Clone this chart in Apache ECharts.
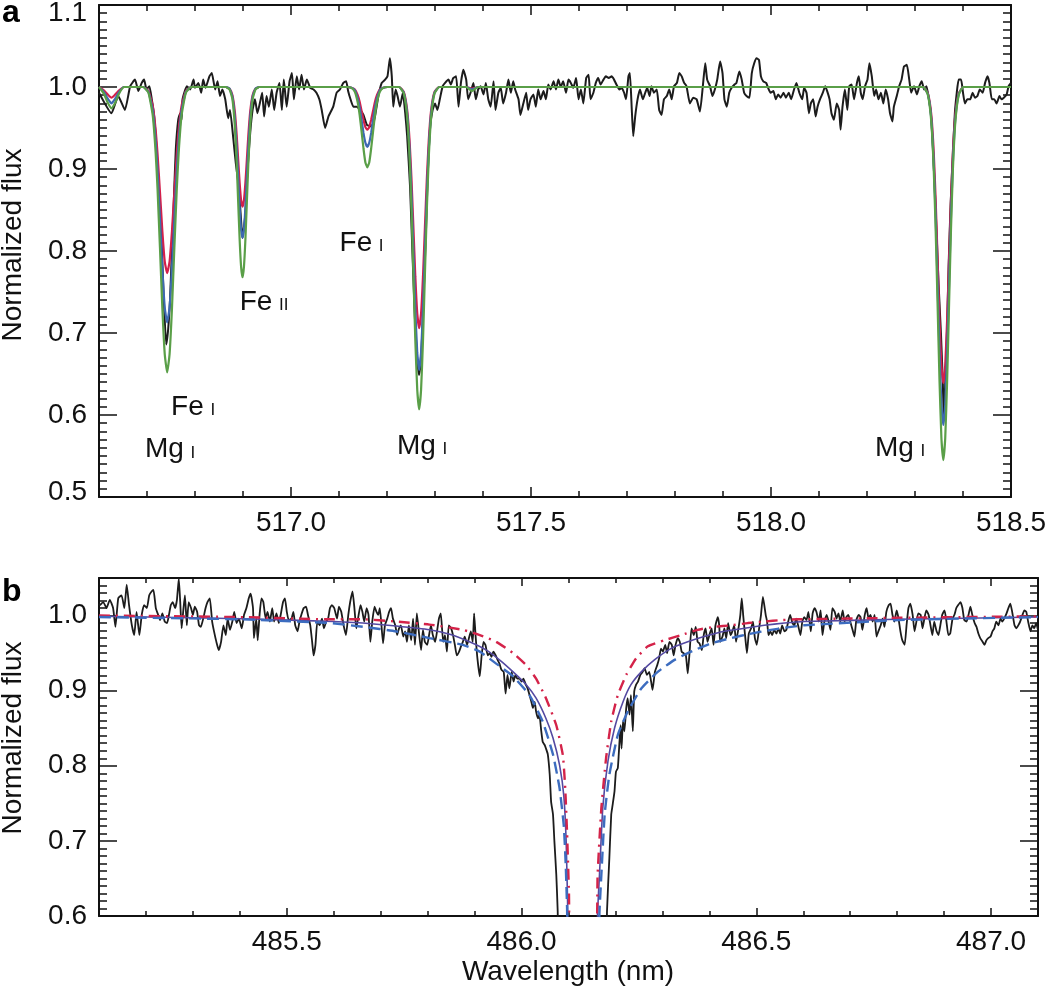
<!DOCTYPE html>
<html>
<head>
<meta charset="utf-8">
<title>Normalized flux spectra</title>
<script src="https://cdn.jsdelivr.net/npm/echarts@6.0.0/dist/echarts.min.js"></script>
<style>
  html, body { margin: 0; padding: 0; background: #fff; }
  #chart { width: 1050px; height: 997px; }
</style>
</head>
<body>
<div id="chart"></div>
<script>
// ---------- panel a : observed spectrum (nm, normalized flux) ----------
const specA_wave = [
  516.600, 516.626, 516.640, 516.654, 516.665, 516.675, 516.682, 516.689, 516.694, 516.699,
  516.705, 516.710, 516.715, 516.720, 516.726, 516.731, 516.735, 516.740, 516.744, 516.748,
  516.752, 516.756, 516.760, 516.765, 516.769, 516.772, 516.774, 516.783, 516.790, 516.797,
  516.800, 516.807, 516.813, 516.817, 516.822, 516.830, 516.835, 516.842, 516.847, 516.852,
  516.857, 516.863, 516.869, 516.873, 516.880, 516.885, 516.891, 516.895, 516.899, 516.905,
  516.909, 516.915, 516.920, 516.925, 516.930, 516.935, 516.940, 516.944, 516.949, 516.954,
  516.960, 516.965, 516.970, 516.976, 516.981, 516.985, 516.991, 516.997, 517.002, 517.006,
  517.012, 517.017, 517.022, 517.027, 517.033, 517.040, 517.047, 517.053, 517.059, 517.064,
  517.071, 517.078, 517.088, 517.095, 517.102, 517.109, 517.115, 517.119, 517.124, 517.130,
  517.137, 517.144, 517.151, 517.158, 517.165, 517.170, 517.175, 517.182, 517.189, 517.196,
  517.201, 517.206, 517.210, 517.213, 517.218, 517.222, 517.227, 517.233, 517.238, 517.242,
  517.248, 517.253, 517.258, 517.263, 517.267, 517.272, 517.276, 517.281, 517.285, 517.290,
  517.295, 517.300, 517.305, 517.310, 517.316, 517.321, 517.328, 517.333, 517.338, 517.344,
  517.349, 517.354, 517.359, 517.365, 517.369, 517.374, 517.380, 517.385, 517.390, 517.395,
  517.401, 517.406, 517.411, 517.416, 517.422, 517.426, 517.432, 517.437, 517.442, 517.448,
  517.453, 517.458, 517.463, 517.467, 517.474, 517.478, 517.484, 517.490, 517.494, 517.499,
  517.505, 517.510, 517.515, 517.520, 517.526, 517.531, 517.536, 517.541, 517.547, 517.552,
  517.557, 517.562, 517.567, 517.573, 517.578, 517.583, 517.588, 517.594, 517.599, 517.604,
  517.609, 517.615, 517.620, 517.624, 517.630, 517.635, 517.640, 517.645, 517.651, 517.656,
  517.662, 517.668, 517.673, 517.678, 517.684, 517.689, 517.694, 517.698, 517.703, 517.706,
  517.710, 517.713, 517.717, 517.722, 517.727, 517.733, 517.738, 517.742, 517.747, 517.751,
  517.756, 517.762, 517.767, 517.772, 517.777, 517.783, 517.788, 517.793, 517.798, 517.804,
  517.809, 517.814, 517.819, 517.824, 517.831, 517.838, 517.845, 517.852, 517.858, 517.863,
  517.867, 517.873, 517.878, 517.883, 517.888, 517.894, 517.899, 517.903, 517.908, 517.913,
  517.918, 517.924, 517.928, 517.934, 517.939, 517.944, 517.949, 517.955, 517.960, 517.965,
  517.970, 517.975, 517.979, 517.984, 517.990, 517.994, 517.999, 518.005, 518.010, 518.015,
  518.020, 518.026, 518.031, 518.037, 518.042, 518.048, 518.053, 518.059, 518.065, 518.069,
  518.074, 518.079, 518.083, 518.088, 518.093, 518.097, 518.102, 518.108, 518.113, 518.117,
  518.122, 518.126, 518.131, 518.137, 518.142, 518.145, 518.149, 518.154, 518.159, 518.163,
  518.168, 518.173, 518.179, 518.183, 518.187, 518.191, 518.196, 518.201, 518.205, 518.210,
  518.215, 518.219, 518.224, 518.229, 518.234, 518.239, 518.244, 518.248, 518.253, 518.256,
  518.262, 518.267, 518.272, 518.277, 518.283, 518.288, 518.292, 518.298, 518.304, 518.309,
  518.314, 518.319, 518.324, 518.329, 518.333, 518.337, 518.341, 518.345, 518.349, 518.354,
  518.358, 518.360, 518.363, 518.367, 518.370, 518.374, 518.379, 518.383, 518.387, 518.391,
  518.396, 518.400, 518.404, 518.409, 518.415, 518.420, 518.425, 518.430, 518.435, 518.441,
  518.446, 518.451, 518.455, 518.460, 518.465, 518.470, 518.476, 518.480, 518.485, 518.491,
  518.495, 518.500
];
const specA_flux = [
  0.993, 0.968, 0.989, 0.972, 1.001, 1.009, 0.995, 1.005, 1.009, 0.997,
  1.001, 0.985, 0.964, 0.924, 0.863, 0.802, 0.741, 0.686, 0.704, 0.741,
  0.802, 0.863, 0.924, 0.960, 0.968, 0.960, 0.985, 1.001, 0.997, 1.009,
  0.999, 1.005, 0.993, 1.009, 0.999, 1.013, 1.017, 0.997, 1.007, 0.989,
  0.997, 0.985, 0.962, 0.972, 0.936, 0.907, 0.879, 0.846, 0.816, 0.846,
  0.895, 0.944, 0.972, 0.985, 0.968, 0.980, 0.993, 0.964, 0.989, 0.976,
  0.997, 0.972, 0.993, 1.005, 0.972, 1.009, 0.976, 1.007, 1.017, 0.985,
  1.013, 0.997, 1.015, 0.997, 1.009, 0.999, 0.997, 0.993, 0.985, 0.972,
  0.950, 0.964, 0.976, 0.993, 0.997, 1.005, 1.007, 0.995, 0.985, 0.976,
  0.976, 0.972, 0.966, 0.954, 0.952, 0.954, 0.964, 0.989, 1.005, 1.009,
  1.013, 1.035, 1.013, 0.976, 0.997, 0.989, 0.976, 0.993, 0.968, 0.940,
  0.879, 0.798, 0.720, 0.667, 0.649, 0.680, 0.741, 0.822, 0.895, 0.952,
  0.972, 0.980, 0.972, 0.985, 1.001, 1.005, 1.009, 1.003, 1.011, 1.013,
  0.976, 1.005, 1.021, 1.009, 0.985, 0.993, 1.005, 0.985, 0.997, 1.001,
  0.991, 1.005, 0.985, 0.976, 1.007, 0.972, 0.993, 0.999, 0.980, 0.993,
  1.009, 0.993, 1.007, 0.997, 0.985, 0.966, 0.980, 0.993, 0.972, 0.985,
  0.991, 0.976, 0.997, 0.985, 0.995, 0.985, 1.003, 0.997, 1.007, 0.997,
  1.009, 1.000, 1.007, 0.993, 1.009, 1.005, 0.999, 1.011, 0.985, 0.997,
  0.980, 1.011, 1.015, 0.985, 0.993, 1.005, 1.011, 1.003, 1.009, 1.013,
  1.011, 1.013, 1.009, 1.003, 0.997, 0.999, 0.993, 0.985, 1.013, 1.017,
  0.972, 0.940, 0.964, 0.985, 0.997, 0.985, 0.993, 0.999, 0.989, 1.001,
  0.993, 0.997, 0.972, 0.966, 0.985, 0.989, 0.997, 0.985, 1.001, 1.005,
  1.017, 1.013, 1.005, 1.001, 0.980, 0.987, 0.985, 0.970, 1.001, 1.029,
  1.009, 1.001, 0.989, 0.997, 1.009, 1.031, 1.017, 0.985, 0.976, 0.993,
  0.999, 1.003, 1.005, 1.019, 1.009, 0.993, 0.989, 0.987, 1.017, 1.029,
  1.035, 1.033, 1.013, 1.007, 1.005, 0.999, 0.993, 0.995, 0.985, 0.991,
  0.987, 0.993, 0.987, 0.993, 0.985, 0.997, 1.005, 0.993, 0.985, 0.999,
  0.993, 0.968, 0.980, 0.985, 0.964, 0.976, 0.985, 0.993, 1.001, 0.995,
  0.985, 0.968, 0.960, 0.980, 0.972, 0.948, 0.976, 0.997, 0.972, 1.001,
  1.003, 0.985, 1.005, 1.013, 0.993, 0.985, 1.001, 1.009, 1.029, 1.013,
  0.989, 0.997, 0.985, 0.993, 0.980, 0.997, 0.985, 0.968, 0.958, 0.976,
  0.989, 1.001, 1.009, 1.025, 1.027, 1.009, 0.993, 1.001, 0.991, 1.001,
  1.007, 0.997, 1.001, 0.985, 0.968, 0.928, 0.879, 0.822, 0.761, 0.700,
  0.639, 0.594, 0.639, 0.708, 0.781, 0.854, 0.920, 0.968, 0.993, 1.009,
  1.009, 0.993, 0.980, 0.985, 0.985, 0.993, 0.987, 0.989, 0.997, 0.993,
  1.005, 1.013, 1.005, 0.985, 0.985, 0.980, 0.989, 0.985, 0.987, 0.991,
  1.001, 1.005
];

// ---------- panel a : three synthetic line profiles ----------
const modelA_wave = [
  516.600, 516.610, 516.618, 516.626, 516.634, 516.642, 516.652,
  516.692, 516.703, 516.712, 516.718, 516.722, 516.727, 516.732, 516.737, 516.742,
  516.747, 516.752, 516.757, 516.762, 516.766, 516.772, 516.781, 516.792,
  516.864, 516.872, 516.878, 516.883, 516.887, 516.890, 516.893, 516.896, 516.899,
  516.902, 516.905, 516.908, 516.911, 516.915, 516.920, 516.926, 516.934,
  517.117, 517.126, 517.133, 517.139, 517.143, 517.147, 517.151, 517.155, 517.159,
  517.163, 517.167, 517.171, 517.175, 517.179, 517.185, 517.192, 517.201,
  517.225, 517.235, 517.242, 517.247, 517.251, 517.255, 517.259, 517.263, 517.267,
  517.271, 517.275, 517.279, 517.283, 517.287, 517.292, 517.299, 517.309,
  517.365, 517.377, 517.390,
  518.317, 518.327, 518.334, 518.339, 518.343, 518.347, 518.351, 518.355, 518.359,
  518.363, 518.367, 518.371, 518.375, 518.379, 518.384, 518.391, 518.401, 518.500
];
const modelA_red = [
  1.000, 0.996, 0.991, 0.987, 0.991, 0.996, 1.000,
  1.000, 0.995, 0.977, 0.948, 0.918, 0.872, 0.824, 0.787, 0.773,
  0.787, 0.824, 0.872, 0.918, 0.948, 0.977, 0.995, 1.000,
  1.000, 0.998, 0.990, 0.970, 0.940, 0.911, 0.883, 0.862, 0.854,
  0.862, 0.883, 0.911, 0.940, 0.970, 0.990, 0.998, 1.000,
  1.000, 0.999, 0.997, 0.990, 0.982, 0.971, 0.960, 0.951, 0.948,
  0.951, 0.960, 0.971, 0.982, 0.990, 0.997, 0.999, 1.000,
  1.000, 0.994, 0.972, 0.935, 0.888, 0.829, 0.769, 0.724, 0.706,
  0.724, 0.769, 0.829, 0.888, 0.935, 0.972, 0.994, 1.000,
  1.000, 0.998, 1.000,
  1.000, 0.992, 0.966, 0.921, 0.863, 0.791, 0.717, 0.661, 0.639,
  0.661, 0.717, 0.791, 0.863, 0.921, 0.966, 0.992, 1.000, 1.000
];
const modelA_blue = [
  1.000, 0.994, 0.986, 0.980, 0.986, 0.994, 1.000,
  1.000, 0.994, 0.971, 0.934, 0.897, 0.838, 0.778, 0.731, 0.713,
  0.731, 0.778, 0.838, 0.897, 0.934, 0.971, 0.994, 1.000,
  1.000, 0.998, 0.988, 0.962, 0.924, 0.888, 0.853, 0.826, 0.816,
  0.826, 0.853, 0.888, 0.924, 0.962, 0.988, 0.998, 1.000,
  1.000, 0.999, 0.996, 0.986, 0.975, 0.960, 0.944, 0.932, 0.927,
  0.932, 0.944, 0.960, 0.975, 0.986, 0.996, 0.999, 1.000,
  1.000, 0.993, 0.968, 0.924, 0.869, 0.800, 0.729, 0.676, 0.655,
  0.676, 0.729, 0.800, 0.869, 0.924, 0.968, 0.993, 1.000,
  1.000, 0.997, 1.000,
  1.000, 0.991, 0.961, 0.909, 0.843, 0.761, 0.677, 0.613, 0.588,
  0.613, 0.677, 0.761, 0.843, 0.909, 0.961, 0.991, 1.000, 1.000
];
const modelA_green = [
  1.000, 0.992, 0.981, 0.974, 0.981, 0.992, 1.000,
  1.000, 0.993, 0.965, 0.920, 0.875, 0.804, 0.730, 0.674, 0.652,
  0.674, 0.730, 0.804, 0.875, 0.920, 0.965, 0.993, 1.000,
  1.000, 0.997, 0.985, 0.952, 0.905, 0.859, 0.814, 0.781, 0.768,
  0.781, 0.814, 0.859, 0.905, 0.952, 0.985, 0.997, 1.000,
  1.000, 0.999, 0.994, 0.981, 0.966, 0.946, 0.925, 0.908, 0.902,
  0.908, 0.925, 0.946, 0.966, 0.981, 0.994, 0.999, 1.000,
  1.000, 0.992, 0.963, 0.914, 0.851, 0.772, 0.691, 0.631, 0.607,
  0.631, 0.691, 0.772, 0.851, 0.914, 0.963, 0.992, 1.000,
  1.000, 0.995, 1.000,
  1.000, 0.990, 0.957, 0.900, 0.827, 0.736, 0.643, 0.572, 0.545,
  0.572, 0.643, 0.736, 0.827, 0.900, 0.957, 0.990, 1.000, 1.000
];
const lineNamesA = ['Mg I', 'Fe I', 'Fe II', 'Fe I', 'Mg I', 'Mg I'];

// ---------- panel b : observed H-beta region ----------
const specB_wave = [
  485.100, 485.102, 485.109, 485.116, 485.123, 485.130, 485.135, 485.141, 485.148, 485.154,
  485.159, 485.164, 485.170, 485.175, 485.180, 485.186, 485.191, 485.196, 485.202, 485.207,
  485.212, 485.216, 485.221, 485.226, 485.230, 485.235, 485.240, 485.245, 485.249, 485.253,
  485.257, 485.262, 485.266, 485.270, 485.273, 485.276, 485.280, 485.283, 485.287, 485.291,
  485.296, 485.300, 485.304, 485.309, 485.313, 485.317, 485.322, 485.327, 485.331, 485.336,
  485.341, 485.345, 485.350, 485.355, 485.360, 485.365, 485.370, 485.374, 485.379, 485.384,
  485.388, 485.393, 485.398, 485.404, 485.409, 485.414, 485.419, 485.423, 485.428, 485.430,
  485.435, 485.438, 485.442, 485.446, 485.450, 485.455, 485.459, 485.464, 485.469, 485.473,
  485.478, 485.483, 485.487, 485.492, 485.496, 485.500, 485.504, 485.510, 485.514, 485.518,
  485.523, 485.527, 485.531, 485.536, 485.541, 485.545, 485.550, 485.554, 485.557, 485.561,
  485.565, 485.570, 485.575, 485.579, 485.584, 485.588, 485.592, 485.596, 485.601,
  485.607, 485.611, 485.616, 485.621, 485.626, 485.631, 485.635, 485.640, 485.644, 485.648,
  485.653, 485.657, 485.661, 485.665, 485.670, 485.674, 485.678, 485.682, 485.687, 485.691,
  485.695, 485.698, 485.701, 485.705, 485.709, 485.714, 485.718, 485.722, 485.726, 485.731,
  485.735, 485.739, 485.743, 485.748, 485.752, 485.756, 485.760, 485.765, 485.769, 485.773,
  485.777, 485.782, 485.786, 485.790, 485.794, 485.799, 485.803, 485.807, 485.811, 485.816,
  485.820, 485.824, 485.828, 485.833, 485.837, 485.841, 485.845, 485.850, 485.854, 485.858,
  485.862, 485.867, 485.871, 485.875, 485.879, 485.884, 485.888, 485.892, 485.896, 485.899,
  485.902, 485.906, 485.911, 485.915, 485.919, 485.923, 485.928, 485.932, 485.936, 485.940,
  485.945, 485.949, 485.953, 485.957, 485.962, 485.966, 485.970, 485.974, 485.979, 485.983,
  485.987, 485.991, 485.996, 486.000, 486.004, 486.009, 486.013, 486.017, 486.021, 486.024,
  486.028, 486.031, 486.035, 486.038, 486.042, 486.045, 486.049, 486.052, 486.056, 486.060,
  486.063, 486.067, 486.070, 486.074, 486.077, 486.080, 486.180,
  486.182, 486.187, 486.191, 486.194, 486.198, 486.201, 486.205, 486.207, 486.211, 486.213,
  486.216, 486.219, 486.223, 486.226, 486.230, 486.233, 486.237, 486.240, 486.244, 486.248,
  486.253, 486.258, 486.262, 486.267, 486.272, 486.276, 486.279, 486.284, 486.289, 486.293,
  486.297, 486.301, 486.306, 486.310, 486.315, 486.320, 486.324, 486.328, 486.333, 486.337,
  486.341, 486.345, 486.350, 486.354, 486.358, 486.362, 486.367, 486.371, 486.375, 486.379,
  486.384, 486.388, 486.392, 486.396, 486.401, 486.405, 486.409, 486.413, 486.418, 486.421,
  486.423, 486.428, 486.432, 486.436, 486.440, 486.445, 486.449, 486.453, 486.457, 486.462,
  486.466, 486.469, 486.472, 486.476, 486.480, 486.484, 486.489, 486.493, 486.497, 486.501,
  486.506, 486.510, 486.514, 486.517, 486.520, 486.523, 486.526, 486.530, 486.534, 486.538,
  486.543, 486.547, 486.551, 486.555, 486.560, 486.564, 486.568, 486.572, 486.577, 486.581,
  486.585, 486.589, 486.594, 486.598, 486.602,
  486.607, 486.611, 486.616, 486.620, 486.624, 486.628, 486.633, 486.637, 486.641, 486.645,
  486.650, 486.654, 486.658, 486.662, 486.667, 486.671, 486.675, 486.679, 486.684, 486.688,
  486.692, 486.696, 486.701, 486.705, 486.709, 486.713, 486.718, 486.722, 486.726, 486.731,
  486.735, 486.739, 486.743, 486.748, 486.752, 486.756, 486.760, 486.765, 486.769, 486.773,
  486.777, 486.782, 486.786, 486.790, 486.794, 486.799, 486.803, 486.807, 486.811, 486.816,
  486.820, 486.824, 486.828, 486.833, 486.837, 486.841, 486.845, 486.850, 486.854, 486.858,
  486.862, 486.867, 486.871, 486.875, 486.879, 486.884, 486.888, 486.892, 486.896, 486.901,
  486.905, 486.909, 486.913, 486.918, 486.922, 486.926, 486.930, 486.935, 486.939, 486.943,
  486.948, 486.952, 486.956, 486.960, 486.965, 486.969, 486.973, 486.977, 486.982, 486.986,
  486.990, 486.994, 486.999, 487.003, 487.007, 487.011, 487.016, 487.020, 487.024, 487.028,
  487.033, 487.037, 487.041, 487.045, 487.050, 487.054, 487.058, 487.062, 487.067, 487.071,
  487.075, 487.079, 487.084, 487.088, 487.092, 487.096, 487.100
];
const specB_flux = [
  1.016, 1.014, 1.018, 1.010, 1.021, 1.010, 0.985, 1.023, 1.027, 1.010,
  1.041, 1.014, 0.987, 0.974, 1.005, 0.974, 1.001, 1.014, 1.010, 1.027,
  1.032, 1.034, 1.010, 1.001, 0.994, 1.003, 0.992, 0.990, 1.001, 1.014,
  1.018, 1.010, 1.021, 1.049, 1.018, 0.983, 1.010, 1.027, 0.987, 1.018,
  1.010, 1.001, 1.012, 1.005, 0.987, 0.985, 0.996, 1.010, 1.018, 1.023,
  0.992, 0.979, 0.965, 0.954, 0.965, 0.987, 0.974, 0.996, 0.981, 0.992,
  1.005, 0.990, 0.996, 0.983, 1.001, 1.010, 1.023, 1.029, 1.010, 0.970,
  0.996, 0.967, 1.001, 1.023, 1.018, 0.996, 1.005, 0.992, 1.010, 0.992,
  1.003, 0.990, 1.001, 1.018, 1.023, 1.005, 0.994, 0.996, 1.005, 0.987,
  0.979, 0.992, 1.001, 1.010, 1.012, 1.001, 0.987, 0.965, 0.947, 0.961,
  0.992, 0.987, 0.996, 0.983, 0.992, 0.996, 1.010, 1.014, 1.010,
  0.996, 1.012, 1.005, 0.987, 0.974, 1.001, 1.018, 1.032, 1.010, 0.983,
  1.001, 1.014, 1.005, 0.992, 1.010, 1.001, 0.965, 0.992, 1.012, 1.005,
  1.001, 1.010, 0.992, 0.963, 0.987, 0.996, 1.005, 1.010, 0.996, 0.987,
  0.974, 0.983, 0.987, 0.972, 0.979, 0.965, 0.987, 0.967, 0.996, 0.961,
  1.003, 0.974, 0.954, 0.981, 0.965, 0.961, 0.974, 0.987, 0.974, 0.965,
  0.979, 0.996, 1.003, 0.965, 0.974, 0.952, 0.987, 0.983, 0.974, 0.961,
  0.947, 0.952, 0.959, 0.965, 0.972, 0.961, 0.970, 0.979, 0.965, 1.003,
  0.974, 0.943, 0.919, 0.947, 0.965, 0.961, 0.947, 0.950, 0.945, 0.952,
  0.947, 0.941, 0.936, 0.928, 0.925, 0.896, 0.921, 0.903, 0.925, 0.912,
  0.921, 0.916, 0.916, 0.912, 0.916, 0.908, 0.903, 0.894, 0.885, 0.877,
  0.885, 0.872, 0.863, 0.868, 0.846, 0.832, 0.828, 0.823, 0.815, 0.788,
  0.752, 0.735, 0.699, 0.655, 0.606, 0.500, 0.500,
  0.606, 0.677, 0.735, 0.748, 0.766, 0.792, 0.797, 0.815, 0.854, 0.823,
  0.859, 0.846, 0.877, 0.890, 0.868, 0.894, 0.846, 0.899, 0.908, 0.912,
  0.921, 0.925, 0.930, 0.921, 0.925, 0.912, 0.901, 0.925, 0.934, 0.943,
  0.956, 0.952, 0.961, 0.950, 0.965, 0.961, 0.947, 0.961, 0.970, 0.965,
  0.952, 0.950, 0.947, 0.923, 0.952, 0.983, 0.974, 0.985, 0.965, 0.963,
  0.954, 0.974, 0.983, 0.965, 0.976, 0.983, 0.961, 0.987, 0.998, 0.987,
  0.965, 0.972, 0.983, 0.970, 0.990, 0.974, 0.979, 0.987, 0.965, 0.983,
  1.001, 1.023, 1.001, 0.974, 0.950, 0.976, 0.983, 0.992, 0.970, 0.961,
  0.983, 1.001, 1.025, 1.014, 1.001, 0.992, 0.974, 0.979, 0.974, 0.981,
  0.976, 0.983, 0.976, 0.987, 0.979, 0.981, 0.992, 1.001, 0.990, 0.987,
  0.996, 0.987, 0.974, 0.992, 0.998,
  0.994, 1.005, 0.979, 1.003, 1.010, 1.005, 0.992, 1.007, 0.974, 0.992,
  1.001, 0.992, 0.981, 1.010, 1.005, 0.996, 1.003, 0.992, 1.007, 0.992,
  0.998, 1.001, 0.990, 0.981, 0.972, 0.994, 1.001, 0.998, 0.981, 1.001,
  1.010, 0.996, 1.001, 0.992, 1.001, 0.972, 0.979, 0.987, 0.996, 0.985,
  1.005, 1.014, 1.016, 1.001, 0.992, 1.007, 0.996, 0.979, 0.967, 0.961,
  0.987, 1.010, 1.016, 1.001, 0.979, 0.992, 1.003, 1.001, 0.983, 0.996,
  1.007, 1.001, 0.987, 0.974, 0.992, 0.979, 0.974, 0.987, 1.001, 1.007,
  0.992, 0.974, 0.976, 0.996, 1.001, 1.010, 1.014, 1.018, 1.010, 0.994,
  0.992, 1.001, 1.012, 1.001, 0.990, 0.985, 0.976, 0.970, 0.965, 0.961,
  0.967, 0.970, 0.972, 0.979, 0.983, 0.992, 0.987, 0.996, 0.992, 0.996,
  1.003, 1.010, 1.016, 1.005, 0.987, 0.983, 0.987, 0.992, 1.001, 1.007,
  1.005, 0.992, 0.979, 0.987, 0.983, 0.990, 0.981
];

// ---------- panel b : three model H-beta profiles ----------
const hbSolid_wave = [
  485.100, 485.300, 485.450, 485.600, 485.662, 485.733, 485.804, 485.847, 485.889, 485.925,
  485.953, 485.982, 486.010, 486.031, 486.052, 486.067, 486.081, 486.090, 486.095, 486.098,
  486.102, 486.158, 486.162, 486.166, 486.173, 486.184, 486.198, 486.216, 486.233, 486.255,
  486.283, 486.318, 486.354, 486.389, 486.432, 486.475, 486.517, 486.560, 486.602, 486.800,
  487.100
];
const hbSolid_flux = [
  0.999, 0.997, 0.995, 0.992, 0.990, 0.986, 0.981, 0.975, 0.965, 0.954,
  0.941, 0.925, 0.908, 0.890, 0.863, 0.837, 0.801, 0.760, 0.700, 0.620,
  0.500, 0.500, 0.606, 0.655, 0.744, 0.806, 0.850, 0.885, 0.908, 0.925,
  0.941, 0.956, 0.965, 0.972, 0.979, 0.983, 0.987, 0.990, 0.992, 0.995,
  0.998
];
const hbDashDot_wave = [
  485.100, 485.400, 485.592, 485.662, 485.733, 485.804, 485.875, 485.911, 485.946, 485.982,
  486.010, 486.031, 486.052, 486.074, 486.088, 486.093, 486.097, 486.101, 486.104, 486.157,
  486.162, 486.170, 486.180, 486.191, 486.205, 486.223, 486.244, 486.269, 486.304, 486.340,
  486.375, 486.411, 486.446, 486.482, 486.517, 486.553, 486.588, 486.800, 487.100
];
const hbDashDot_flux = [
  1.000, 0.998, 0.995, 0.995, 0.992, 0.988, 0.981, 0.974, 0.965, 0.950,
  0.934, 0.916, 0.890, 0.854, 0.814, 0.770, 0.710, 0.630, 0.550, 0.550,
  0.655, 0.744, 0.810, 0.859, 0.894, 0.921, 0.943, 0.959, 0.967, 0.974,
  0.981, 0.985, 0.987, 0.990, 0.992, 0.994, 0.995, 0.997, 0.999
];
const hbDash_wave = [
  485.100, 485.400, 485.592, 485.662, 485.733, 485.804, 485.875, 485.911, 485.946, 485.982,
  486.017, 486.045, 486.067, 486.081, 486.090, 486.094, 486.097, 486.100, 486.162, 486.166,
  486.170, 486.177, 486.187, 486.205, 486.226, 486.255, 486.290, 486.326, 486.361, 486.404,
  486.446, 486.489, 486.531, 486.574, 486.602, 486.804, 487.100
];
const hbDash_flux = [
  0.998, 0.995, 0.990, 0.985, 0.979, 0.970, 0.961, 0.952, 0.936, 0.919,
  0.894, 0.859, 0.815, 0.770, 0.720, 0.670, 0.610, 0.530, 0.530, 0.606,
  0.655, 0.735, 0.788, 0.841, 0.872, 0.903, 0.925, 0.941, 0.952, 0.963,
  0.970, 0.976, 0.981, 0.985, 0.987, 0.994, 0.998
];

// tick labels
const ticksA_x = [517.0, 517.5, 518.0, 518.5];
const ticksA_y = [0.5, 0.6, 0.7, 0.8, 0.9, 1.0, 1.1];
const ticksB_x = [485.5, 486.0, 486.5, 487.0];
const ticksB_y = [0.6, 0.7, 0.8, 0.9, 1.0];

// ---------------------------------------------------------------
const INK = '#111111';
const FONT = '"Liberation Sans", Arial, Helvetica, sans-serif';

function pairs(xs, ys) {
  return xs.map(function (x, i) { return [x, ys[i]]; });
}
function ink(w) { return { color: INK, width: w }; }

// four x axes per panel: bottom major (with labels), bottom minor, top major, top minor
function xAxesFor(grid, min, max, majors, majLen, minLen) {
  const base = { type: 'value', gridIndex: grid, min: min, max: max, splitLine: { show: false },
                 axisLine: { show: false, onZero: false } };
  return [
    Object.assign({}, base, {
      position: 'bottom',
      axisLine: { show: true, onZero: false, lineStyle: ink(2) },
      axisTick: { show: true, inside: true, length: majLen, customValues: majors, lineStyle: ink(1.5) },
      axisLabel: { show: true, customValues: majors, margin: 12, color: INK, fontSize: 28, fontFamily: FONT,
                   formatter: function (v) { return v.toFixed(1); } }
    }),
    Object.assign({}, base, { position: 'bottom', interval: 0.1,
      axisTick: { show: true, inside: true, length: minLen, lineStyle: ink(1.5) }, axisLabel: { show: false } }),
    Object.assign({}, base, { position: 'top',
      axisLine: { show: true, onZero: false, lineStyle: ink(2) },
      axisTick: { show: true, inside: true, length: majLen, customValues: majors, lineStyle: ink(1.5) },
      axisLabel: { show: false } }),
    Object.assign({}, base, { position: 'top', interval: 0.1,
      axisTick: { show: true, inside: true, length: minLen, lineStyle: ink(1.5) }, axisLabel: { show: false } })
  ];
}

// four y axes per panel: left major (labels), left minor, right major, right minor
function yAxesFor(grid, min, max, majors, edgeRich) {
  const base = { type: 'value', gridIndex: grid, min: min, max: max, splitLine: { show: false },
                 axisLine: { show: false, onZero: false } };
  return [
    Object.assign({}, base, {
      position: 'left',
      axisLine: { show: true, onZero: false, lineStyle: ink(2) },
      axisTick: { show: true, inside: true, length: 18, customValues: majors, lineStyle: ink(1.5) },
      axisLabel: { show: true, customValues: majors, margin: 12, color: INK, fontSize: 28, fontFamily: FONT,
                   formatter: function (v) {
                     const s = v.toFixed(1);
                     return edgeRich[s] ? '{' + edgeRich[s] + '|' + s + '}' : s;
                   },
                   rich: {
                     dn: { fontSize: 28, fontFamily: FONT, color: INK, padding: [17, 0, 0, 0] },
                     up: { fontSize: 28, fontFamily: FONT, color: INK, padding: [0, 0, 10, 0] }
                   } }
    }),
    Object.assign({}, base, { position: 'left', interval: 0.01,
      axisTick: { show: true, inside: true, length: 8, lineStyle: ink(1.5) }, axisLabel: { show: false } }),
    Object.assign({}, base, { position: 'right',
      axisLine: { show: true, onZero: false, lineStyle: ink(2) },
      axisTick: { show: true, inside: true, length: 18, customValues: majors, lineStyle: ink(1.5) },
      axisLabel: { show: false } }),
    Object.assign({}, base, { position: 'right', interval: 0.01,
      axisTick: { show: true, inside: true, length: 8, lineStyle: ink(1.5) }, axisLabel: { show: false } })
  ];
}

function spectrum(xi, data, color, width, dash, z) {
  return {
    type: 'line', xAxisIndex: xi, yAxisIndex: xi, data: data, showSymbol: false, symbol: 'none',
    clip: true, silent: true, z: z, smooth: 0.15,
    lineStyle: { color: color, width: width, type: dash || 'solid' }
  };
}

// where the line identifications sit (data coordinates of panel a)
const labelAnchors = [[516.748, 0.558], [516.796, 0.610], [516.944, 0.738],
                      [517.147, 0.810], [517.273, 0.562], [518.269, 0.560]];

const chart = echarts.init(document.getElementById('chart'), null, { renderer: 'canvas' });

const option = {
  animation: false,
  backgroundColor: '#ffffff',
  grid: [
    { left: 99, top: 5, width: 912, height: 492, outerBoundsMode: 'none' },
    { left: 99, top: 578, width: 939, height: 338, outerBoundsMode: 'none' }
  ],
  xAxis: [].concat(
    xAxesFor(0, 516.6, 518.5, ticksA_x, 10, 6),
    xAxesFor(1, 485.1, 487.1, ticksB_x, 8, 5)
  ),
  yAxis: [].concat(
    yAxesFor(0, 0.5, 1.1, ticksA_y, { '1.1': 'dn', '0.5': 'up' }),
    yAxesFor(1, 0.6, 1.05, ticksB_y, {})
  ),
  series: [
    // panel a
    spectrum(0, pairs(specA_wave, specA_flux), '#1c1c1c', 2, null, 2),
    spectrum(0, pairs(modelA_wave, modelA_red), '#d3204b', 2.2, null, 3),
    spectrum(0, pairs(modelA_wave, modelA_blue), '#3d69b2', 2.2, null, 4),
    spectrum(0, pairs(modelA_wave, modelA_green), '#5a9f48', 2.2, null, 5),
    {
      type: 'scatter', xAxisIndex: 0, yAxisIndex: 0, silent: true, z: 10,
      symbolSize: 1, itemStyle: { color: '#ffffff', opacity: 0 },
      data: lineNamesA.map(function (n, i) { return { name: n, value: labelAnchors[i] }; }),
      label: {
        show: true, position: 'inside', align: 'center', verticalAlign: 'middle',
        color: INK, textBorderWidth: 0, opacity: 1,
        formatter: function (p) {
          const parts = p.name.split(' ');
          return '{el|' + parts[0] + '}  {ion|' + parts[1] + '}';
        },
        rich: {
          el: { fontSize: 28, fontFamily: FONT, color: INK, textBorderWidth: 0, verticalAlign: 'bottom' },
          ion: { fontSize: 17, fontFamily: FONT, color: INK, textBorderWidth: 0, verticalAlign: 'bottom', padding: [0, 0, 2, 0] }
        }
      }
    },
    // panel b
    spectrum(4, pairs(specB_wave, specB_flux), '#1c1c1c', 1.8, null, 2),
    spectrum(4, pairs(hbSolid_wave, hbSolid_flux), '#5449a1', 1.6, null, 3),
    spectrum(4, pairs(hbDashDot_wave, hbDashDot_flux), '#d42349', 2.4, [11, 6, 2, 6], 4),
    spectrum(4, pairs(hbDash_wave, hbDash_flux), '#3c6cbf', 2.4, [12, 6], 5)
  ],
  graphic: [
    { type: 'text', x: 2, y: 13, style: { text: 'a', font: 'bold 32px ' + FONT, fill: '#000', align: 'left', verticalAlign: 'middle' } },
    { type: 'text', x: 2, y: 592, style: { text: 'b', font: 'bold 32px ' + FONT, fill: '#000', align: 'left', verticalAlign: 'middle' } },
    { type: 'text', x: 13, y: 245, rotation: Math.PI / 2,
      style: { text: 'Normalized flux', font: '28px ' + FONT, fill: INK, align: 'center', verticalAlign: 'middle' } },
    { type: 'text', x: 13, y: 738, rotation: Math.PI / 2,
      style: { text: 'Normalized flux', font: '28px ' + FONT, fill: INK, align: 'center', verticalAlign: 'middle' } },
    { type: 'text', x: 568, y: 972,
      style: { text: 'Wavelength (nm)', font: '28px ' + FONT, fill: INK, align: 'center', verticalAlign: 'middle' } }
  ]
};

chart.setOption(option);
</script>
</body>
</html>
